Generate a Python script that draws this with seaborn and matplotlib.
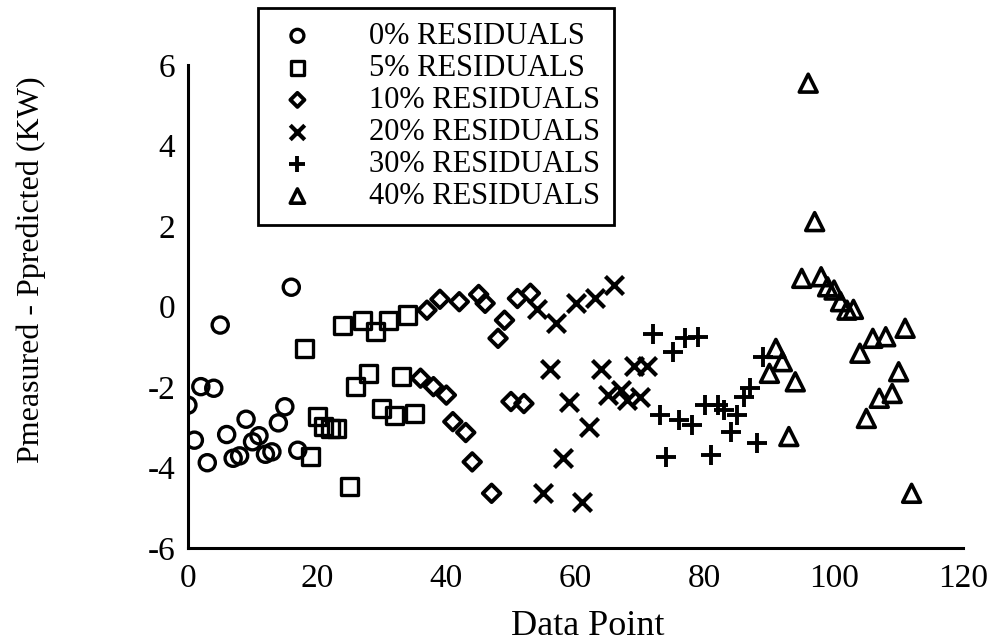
import matplotlib
matplotlib.use("Agg")
import matplotlib.pyplot as plt
import seaborn as sns

# ---- data ----
x_0 = list(range(0, 18))
y_0 = [-2.45, -3.32, -1.99, -3.88, -2.03, -0.46, -3.18, -3.77, -3.71,
       -2.80, -3.36, -3.21, -3.67, -3.61, -2.89, -2.49, 0.48, -3.57]

x_5 = list(range(18, 36))
y_5 = [-1.04, -3.73, -2.74, -2.99, -3.03, -3.03, -0.46, -4.48, -1.99,
       -0.34, -1.66, -0.63, -2.53, -0.34, -2.70, -1.74, -0.21, -2.65]

x_10 = list(range(36, 54))
y_10 = [-1.78, -0.09, -1.99, 0.18, -2.20, -2.86, 0.12, -3.13, -3.86,
        0.30, 0.08, -4.64, -0.79, -0.34, -2.36, 0.20, -2.41, 0.33]

x_20 = list(range(54, 72))
y_20 = [-0.05, -4.64, -1.54, -0.42, -3.77, -2.36, 0.08, -4.85, -2.99,
        0.20, -1.54, -2.20, 0.53, -2.07, -2.32, -1.48, -2.24, -1.48]

x_30 = list(range(72, 90))
y_30 = [-0.67, -2.70, -3.73, -1.12, -2.82, -0.77, -2.94, -0.75, -2.45,
        -3.69, -2.45, -2.57, -3.11, -2.70, -2.24, -2.03, -3.40, -1.25]

x_40 = list(range(90, 113))
y_40 = [-1.66, -1.04, -1.37, -3.23, -1.87, 0.70, 5.55, 2.11, 0.74, 0.49,
        0.41, 0.12, -0.09, -0.07, -1.16, -2.78, -0.79, -2.28, -0.75, -2.16,
        -1.62, -0.54, -4.64]

labels = ["0% RESIDUALS", "5% RESIDUALS", "10% RESIDUALS",
          "20% RESIDUALS", "30% RESIDUALS", "40% RESIDUALS"]
x_ticks = [0, 20, 40, 60, 80, 100, 120]
y_ticks = [-6, -4, -2, 0, 2, 4, 6]

# ---- style ----
sns.set_theme(style="white")
plt.rcParams['font.family'] = ['Liberation Serif', 'DejaVu Serif']

fig = plt.figure(figsize=(9.89, 6.44), dpi=100)
ax = fig.add_axes([0.190, 0.149, 0.784, 0.750])

series = [
    (x_0, y_0, "o", 135, True, 2.4),
    (x_5, y_5, "s", 150, True, 2.4),
    (x_10, y_10, "D", 80, True, 2.8),
    (x_20, y_20, "x", 170, False, 3.0),
    (x_30, y_30, "+", 210, False, 2.8),
    (x_40, y_40, "^", 165, True, 2.6),
]
for (xs, ys, m, s, filled, lw), lab in zip(series, labels):
    if filled:
        sns.scatterplot(x=xs, y=ys, ax=ax, marker=m, s=s, facecolor="none",
                        edgecolor="black", linewidth=lw, label=lab, zorder=3)
    else:
        sns.scatterplot(x=xs, y=ys, ax=ax, marker=m, s=s, color="black",
                        linewidth=lw, label=lab, zorder=3)

ax.set_xlim(0, 120)
ax.set_ylim(-6, 6)
ax.set_xticks(x_ticks)
ax.set_yticks(y_ticks)
ax.set_xticklabels([str(t) for t in x_ticks], fontsize=24)
ax.set_yticklabels([str(t) for t in y_ticks], fontsize=24)
ax.tick_params(axis="both", direction="in", length=8, width=2.0,
               colors="black", pad=9)
ax.tick_params(axis="x", pad=11)

for side in ["top", "right"]:
    ax.spines[side].set_visible(False)
for side in ["left", "bottom"]:
    ax.spines[side].set_color("black")
    ax.spines[side].set_linewidth(2.2)

ax.set_xlabel("Data Point", fontsize=26, color="black")
ax.set_ylabel("Pmeasured - Ppredicted (KW)", fontsize=23, color="black")
ax.xaxis.set_label_coords(0.516, -0.128)
ax.yaxis.set_label_coords(-0.183, 0.576)
ax.grid(False)

leg = ax.legend(loc="upper left", bbox_to_anchor=(0.090, 1.118),
                fontsize=22, frameon=True, fancybox=False, framealpha=1,
                edgecolor="black", handlelength=1.7, handletextpad=1.5,
                labelspacing=0.1, borderpad=0.45, borderaxespad=0,
                markerscale=0.8)
leg.get_frame().set_linewidth(2.0)
for t in leg.get_texts():
    t.set_color("black")

fig.savefig("out.png", dpi=100)
